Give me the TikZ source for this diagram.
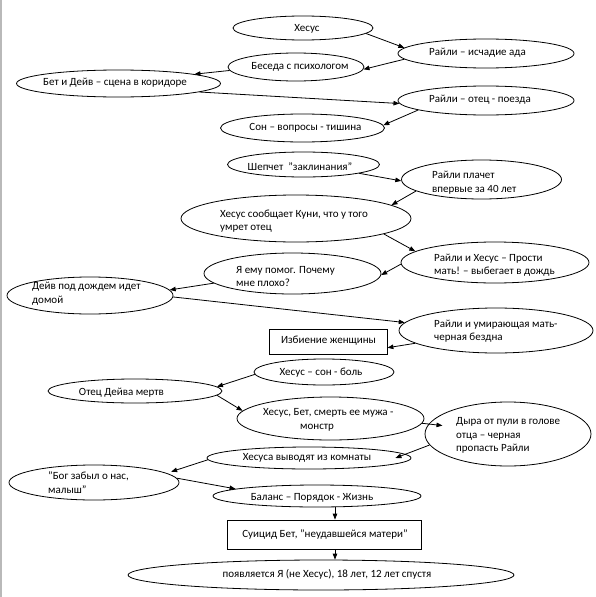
\documentclass[tikz,border=0pt]{standalone}
\usepackage{fontspec}
\setmainfont{Carlito}
\usetikzlibrary{shapes.geometric,arrows.meta}
\tikzset{
  ell/.style={draw, ellipse, inner sep=0pt, line width=0.8pt},
  boxnode/.style={draw, rectangle, inner sep=0pt, line width=0.8pt},
  lbl/.style={inner sep=0pt, align=left, font=\fontsize{11}{13.5}\selectfont},
  arr/.style={-{Triangle[length=6pt,width=4.5pt]}, line width=0.8pt}
}
\begin{document}
\begin{tikzpicture}[x=1pt,y=-1pt]
\useasboundingbox (0,0) rectangle (596,597);
\fill[gray!55] (0,0) rectangle (2,597);
% shapes
\node[ell, minimum width=140, minimum height=24] (A) at (303,28) {};
\node[ell, minimum width=176, minimum height=29] (B) at (486,53.5) {};
\node[ell, minimum width=136, minimum height=28] (C) at (296,67) {};
\node[ell, minimum width=204, minimum height=27] (D) at (118.5,83.5) {};
\node[ell, minimum width=176, minimum height=29] (E) at (486,100.5) {};
\node[ell, minimum width=164, minimum height=28] (F) at (302.5,128) {};
\node[ell, minimum width=152, minimum height=25] (G) at (303.5,164.5) {};
\node[ell, minimum width=160, minimum height=39] (H) at (481.5,179.5) {};
\node[ell, minimum width=230, minimum height=47] (I) at (296,218.5) {};
\node[ell, minimum width=188, minimum height=41] (J) at (495,262.5) {};
\node[ell, minimum width=177, minimum height=41] (K) at (292.5,273.5) {};
\node[ell, minimum width=166, minimum height=37] (L) at (90,295.5) {};
\node[ell, minimum width=194, minimum height=45] (M) at (496,330.5) {};
\node[boxnode, minimum width=118, minimum height=25] (N) at (328,341.5) {};
\node[ell, minimum width=140, minimum height=26] (O) at (324,372) {};
\node[ell, minimum width=174, minimum height=24] (P) at (135,391) {};
\node[ell, minimum width=187, minimum height=43] (Q) at (330.5,418.5) {};
\node[ell, minimum width=166, minimum height=64] (R) at (508,434) {};
\node[ell, minimum width=204, minimum height=22] (S) at (309,458) {};
\node[ell, minimum width=170, minimum height=35] (T) at (94,482.5) {};
\node[ell, minimum width=208, minimum height=22] (U) at (317,496) {};
\node[boxnode, minimum width=194, minimum height=29] (V) at (324,534.5) {};
\node[ell, minimum width=386, minimum height=30] (W) at (321,575) {};
% texts
\node[lbl] (tA) at (307,28.5) {Хесус};
\node[lbl] (tB) at (477.5,53) {Райли – исчадие ада};
\node[lbl] (tC) at (300,67) {Беседа с психологом};
\node[lbl] (tD) at (115,83) {Бет и Дейв – сцена в коридоре};
\node[lbl] (tE) at (480,100) {Райли – отец - поезда};
\node[lbl] (tF) at (305.5,128) {Сон – вопросы - тишина};
\node[lbl] (tG) at (300,167) {Шепчет \ "заклинания"};
\node[lbl, anchor=west] (tH) at (432,182.5) {Райли плачет\\впервые за 40 лет};
\node[lbl, anchor=west] (tI) at (220,221) {Хесус сообщает Куни, что у того\\умрет отец};
\node[lbl, anchor=west] (tJ) at (434,265) {Райли и Хесус – Прости\\мать! – выбегает в дождь};
\node[lbl, anchor=west] (tK) at (236,276.5) {Я ему помог. Почему\\мне плохо?};
\node[lbl, anchor=west] (tL) at (32,293.5) {Дейв под дождем идет\\домой};
\node[lbl, anchor=west] (tM) at (434,331) {Райли и умирающая мать-\\черная бездна};
\node[lbl] (tN) at (328.5,341) {Избиение женщины};
\node[lbl] (tO) at (321,373) {Хесус – сон - боль};
\node[lbl] (tP) at (121.5,392.5) {Отец Дейва мертв};
\node[lbl, anchor=west] (tQ) at (263,420) {Хесус, Бет, смерть ее мужа -\\\hspace*{37pt}монстр};
\node[lbl, anchor=west] (tR) at (456,435.5) {Дыра от пули в голове\\отца – черная\\пропасть Райли};
\node[lbl] (tS) at (307,458) {Хесуса выводят из комнаты};
\node[lbl, anchor=west] (tT) at (48,482.5) {"Бог забыл о нас,\\малыш"};
\node[lbl] (tU) at (312,497.5) {Баланс – Порядок - Жизнь};
\node[lbl] (tV) at (325,535) {Суицид Бет, "неудавшейся матери"};
\node[lbl] (tW) at (327,574) {появляется Я (не Хесус), 18 лет, 12 лет спустя};
% connectors
\draw[arr] (A.-5) -- (B.176);
\draw[arr] (B.184) -- (C.-2);
\draw[arr] (C.183) -- (D.7);
\draw[arr] (D.-6) -- (E.182);
\draw[arr] (E.188) -- (F.2);
\draw[arr] (G.-9) -- (H.181);
\draw[arr] (H.190) -- (I.8);
\draw[arr] (I.-10) -- (J.172);
\draw[arr] (J.181) -- (K.-1);
\draw[arr] (K.187) -- (L.4);
\draw[arr] (L.-1) -- (M.175);
\draw[arr] (M.189) -- (N.-6);
\draw[arr] (O.182) -- (P.3);
\draw[arr] (P.-3) -- (Q.175);
\draw[arr] (Q.-3) -- ([xshift=15pt]R.174);
\draw[arr] (R.188) -- ([xshift=-16pt]S.east);
\draw[arr] (S.181) -- ([xshift=9pt]T.9);
\draw[arr] (T.3) -- (U.175);
\draw[arr] ([xshift=11pt]V.north |- U.south) -- ([xshift=11pt]V.north);
\draw[arr] ([xshift=11pt]V.south) -- ([xshift=11pt]V.south |- W.north);
\end{tikzpicture}
\end{document}
